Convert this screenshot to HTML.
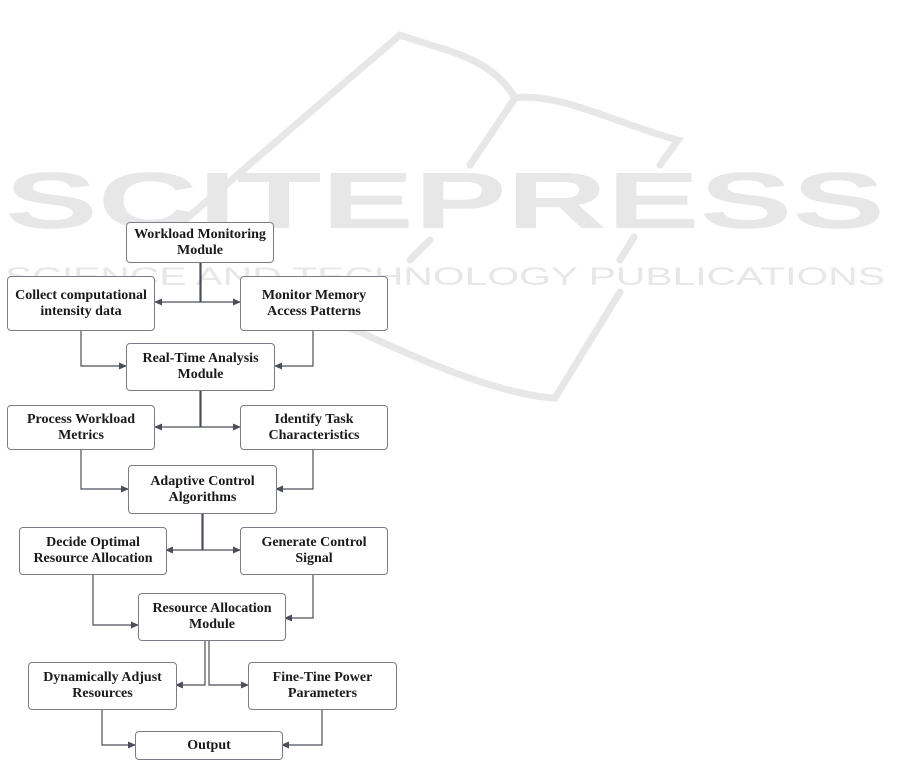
<!DOCTYPE html>
<html><head><meta charset="utf-8"><style>
html,body{margin:0;padding:0;background:#fff;}
body{width:901px;height:762px;position:relative;overflow:hidden;font-family:"Liberation Serif",serif;}
svg{position:absolute;left:0;top:0;}
.b{position:absolute;box-sizing:border-box;border:1px solid #7a7d85;border-radius:4px;background:#fff;display:flex;align-items:center;justify-content:center;text-align:center;font-weight:bold;font-size:14px;line-height:16px;color:#1a1a1a;}
</style></head><body>
<svg width="901" height="762">
<g fill="none" stroke="#e6e7e6" stroke-width="7" stroke-linecap="round">
<path d="M150 250 L400 35 C440 50 490 55 515 98 C560 92 620 125 678 140 L660 165"/>
<path d="M515 98 L470 165"/>
<path d="M620 292 L555 398 C500 395 420 360 360 332 C320 318 260 300 245 305"/>
<path d="M430 240 L410 260"/>
<path d="M634 237 L620 260"/>
</g>
<text x="5" y="228" font-family="Liberation Sans, sans-serif" font-weight="bold" font-size="80" fill="#e6e7e6" textLength="880" lengthAdjust="spacingAndGlyphs">SCITEPRESS</text>
<text x="5" y="285" font-family="Liberation Sans, sans-serif" font-size="25" fill="#e6e7e6" textLength="880" lengthAdjust="spacingAndGlyphs">SCIENCE AND TECHNOLOGY PUBLICATIONS</text>
<defs><marker id="a" markerWidth="8" markerHeight="8" refX="7" refY="4" orient="auto" markerUnits="userSpaceOnUse"><path d="M0 0.5 L8 4 L0 7.5 Z" fill="#4a4f59"/></marker></defs>
<g fill="none" stroke="#4a4f59" stroke-width="1.2" marker-end="url(#a)">
<path d="M200 262 V302 H155"/><path d="M201 262 V302 H240"/>
<path d="M81 330 V366 H126"/><path d="M313 330 V366 H275"/>
<path d="M200 391 V427 H155"/><path d="M201 391 V427 H240"/>
<path d="M81 449 V489 H128"/><path d="M313 449 V489 H276"/>
<path d="M202 513 V550 H166"/><path d="M203 513 V550 H240"/>
<path d="M93 574 V625 H138"/><path d="M313 574 V618 H285"/>
<path d="M205 640 V685 H176"/><path d="M209 640 V685 H248"/>
<path d="M102 709 V745 H135"/><path d="M322 709 V745 H282"/>
</g>
</svg>
<div class="b" style="left:126px;top:222px;width:148px;height:41px">Workload Monitoring<br>Module</div>
<div class="b" style="left:7px;top:276px;width:148px;height:55px">Collect computational<br>intensity data</div>
<div class="b" style="left:240px;top:276px;width:148px;height:55px">Monitor Memory<br>Access Patterns</div>
<div class="b" style="left:126px;top:343px;width:149px;height:48px">Real-Time Analysis<br>Module</div>
<div class="b" style="left:7px;top:405px;width:148px;height:45px">Process Workload<br>Metrics</div>
<div class="b" style="left:240px;top:405px;width:148px;height:45px">Identify Task<br>Characteristics</div>
<div class="b" style="left:128px;top:465px;width:149px;height:49px">Adaptive Control<br>Algorithms</div>
<div class="b" style="left:19px;top:527px;width:148px;height:48px">Decide Optimal<br>Resource Allocation</div>
<div class="b" style="left:240px;top:527px;width:148px;height:48px">Generate Control<br>Signal</div>
<div class="b" style="left:138px;top:593px;width:148px;height:48px">Resource Allocation<br>Module</div>
<div class="b" style="left:28px;top:662px;width:149px;height:48px">Dynamically Adjust<br>Resources</div>
<div class="b" style="left:248px;top:662px;width:149px;height:48px">Fine-Tine Power<br>Parameters</div>
<div class="b" style="left:135px;top:731px;width:148px;height:29px">Output</div>
</body></html>
